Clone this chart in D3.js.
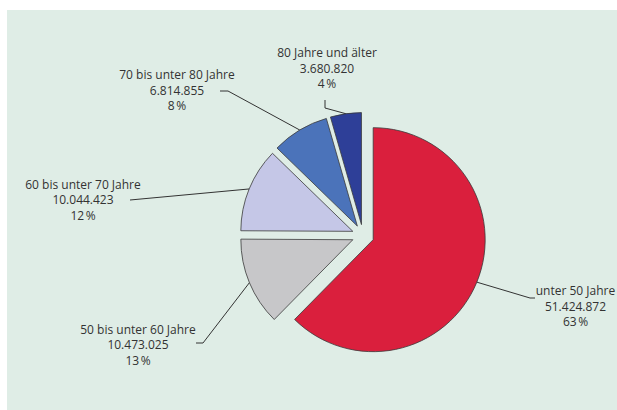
<!DOCTYPE html>
<html>
<head>
<meta charset="utf-8">
<script src="https://cdn.jsdelivr.net/npm/d3@7"></script>
<style>
  html, body { margin: 0; padding: 0; background: #ffffff; }
  svg { display: block; }
  text { font-family: "Open Sans", "Noto Sans", sans-serif; font-size: 12px; fill: #333333; }
</style>
</head>
<body>
<svg id="chart" width="617" height="410"></svg>
<script>
// Bevölkerung nach Altersgruppen
const categories = ["unter 50 Jahre", "50 bis unter 60 Jahre", "60 bis unter 70 Jahre", "70 bis unter 80 Jahre", "80 Jahre und älter"];
const values = [51424872, 10473025, 10044423, 6814855, 3680820];
const percentLabels = [63, 13, 12, 8, 4];
const colors = ["#da1f3d", "#c7c7c9", "#c5c7e7", "#4b73ba", "#2e3f98"];

const width = 617, height = 410;
const svg = d3.select("#chart");

// panel background
svg.append("rect")
  .attr("x", 7).attr("y", 10)
  .attr("width", width - 7).attr("height", height - 10)
  .attr("fill", "#dfede6");

const cx = 363, cy = 235.5, radius = 112, explode = 11;

const data = categories.map((c, i) => ({ name: c, value: values[i], pct: percentLabels[i], color: colors[i] }));

const pie = d3.pie().sort(null).value(d => d.value).startAngle(0).endAngle(2 * Math.PI);
const arc = d3.arc().innerRadius(0).outerRadius(radius);
const arcs = pie(data);

const fmt = d3.formatLocale({ decimal: ",", thousands: ".", grouping: [3], currency: ["", " €"] }).format(",d");

const g = svg.append("g").attr("transform", `translate(${cx},${cy})`);

function dir(a) { return [Math.sin(a), -Math.cos(a)]; }

arcs.forEach(a => {
  const mid = (a.startAngle + a.endAngle) / 2;
  const [dx, dy] = dir(mid);
  a.ox = dx * explode;
  a.oy = dy * explode;
  a.mid = mid;
});

g.selectAll("path.slice")
  .data(arcs)
  .join("path")
  .attr("class", "slice")
  .attr("transform", d => `translate(${d.ox},${d.oy})`)
  .attr("d", arc)
  .attr("fill", d => d.data.color)
  .attr("stroke", "#3a3a3a")
  .attr("stroke-width", 0.8)
  .attr("stroke-linejoin", "miter");

// label layout: elbow, end of leader, text centre and first baseline
const layout = [
  { elbow: [530, 298], end: [535, 298], tx: 575.5, ty: 295 },
  { elbow: [203, 343], end: [196, 343], tx: 138, ty: 333.5 },
  { elbow: [130, 200], end: [130, 200], tx: 83, ty: 188.5 },
  { elbow: [228, 91], end: [220, 91], tx: 177, ty: 79 },
  { elbow: [325, 108], end: [325, 100], tx: 327, ty: 57 }
];
const lineGap = 15.5;

arcs.forEach((a, i) => {
  const [dx, dy] = dir(a.mid);
  const px = cx + a.ox + dx * radius;
  const py = cy + a.oy + dy * radius;
  const L = layout[i];
  svg.append("polyline")
    .attr("points", [[px, py], L.elbow, L.end].map(p => p.join(",")).join(" "))
    .attr("fill", "none")
    .attr("stroke", "#333333")
    .attr("stroke-width", 1);

  const t = svg.append("text").attr("text-anchor", "middle");
  const lines = [a.data.name, fmt(a.data.value), a.data.pct + "\u202F%"];
  lines.forEach((s, k) => {
    t.append("tspan").attr("x", L.tx).attr("y", L.ty + k * lineGap).text(s);
  });
});
</script>
</body>
</html>
